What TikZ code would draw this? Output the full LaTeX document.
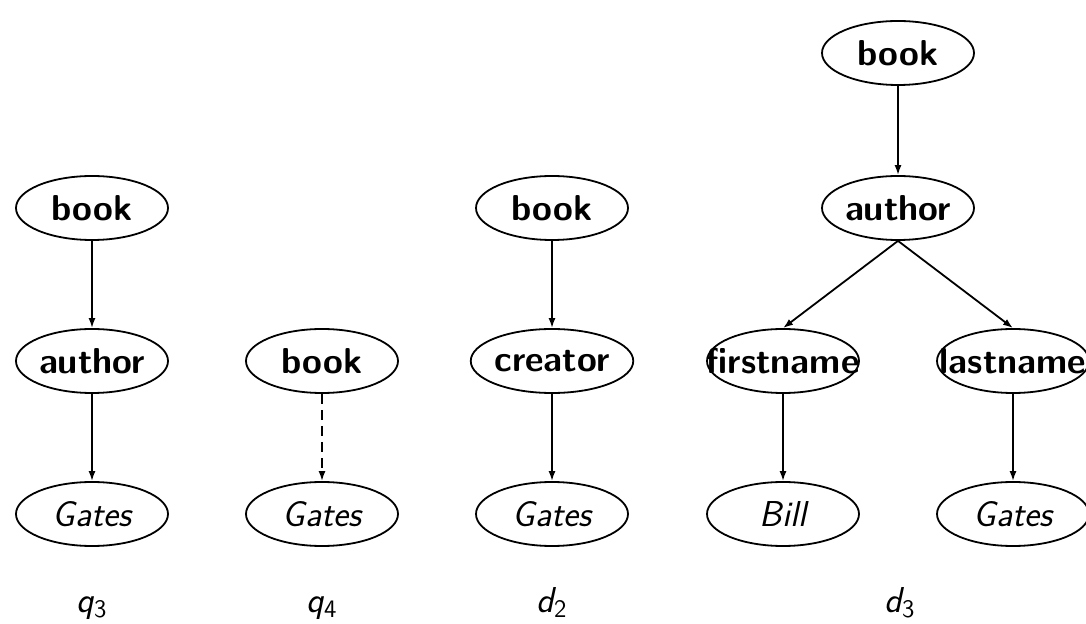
\documentclass[tikz,border=0pt]{standalone}
\usetikzlibrary{shapes.geometric,arrows.meta}
\begin{document}
\begin{tikzpicture}[x=0.5pt,y=-0.5pt,
  tnode/.style={draw, ellipse, minimum width=76pt, minimum height=32pt, inner sep=0pt, line width=0.9pt, font=\fontsize{18}{21}\selectfont\sffamily\bfseries},
  vnode/.style={tnode, font=\fontsize{18}{21}\selectfont\sffamily\itshape},
  edge/.style={line width=0.9pt, -{Latex[length=5pt,width=3.5pt]}},
  lbl/.style={font=\fontsize{18}{21}\selectfont\sffamily\itshape, anchor=base}]
\useasboundingbox (0,0) rectangle (1086,624);
% q3
\node[tnode] (q3book) at (92,208) {book};
\node[tnode] (q3author) at (92,361) {author};
\node[vnode] (q3gates) at (92,514) {Gates};
\draw[edge] (q3book) -- (q3author);
\draw[edge] (q3author) -- (q3gates);
% q4
\node[tnode] (q4book) at (322,361) {book};
\node[vnode] (q4gates) at (322,514) {Gates};
\draw[edge, dash pattern=on 5pt off 3pt] (q4book) -- (q4gates);
% d2
\node[tnode] (d2book) at (552,208) {book};
\node[tnode] (d2creator) at (552,361) {creator};
\node[vnode] (d2gates) at (552,514) {Gates};
\draw[edge] (d2book) -- (d2creator);
\draw[edge] (d2creator) -- (d2gates);
% d3
\node[tnode] (d3book) at (898,53) {book};
\node[tnode] (d3author) at (898,208) {author};
\node[tnode] (d3first) at (783,361) {\makebox[0pt]{firstname}};
\node[tnode] (d3last) at (1013,361) {\makebox[0pt]{lastname}};
\node[vnode] (d3bill) at (783,514) {Bill};
\node[vnode] (d3gates) at (1013,514) {Gates};
\draw[edge] (d3book) -- (d3author);
\draw[edge] (d3author.south) -- (d3first.north);
\draw[edge] (d3author.south) -- (d3last.north);
\draw[edge] (d3first) -- (d3bill);
\draw[edge] (d3last) -- (d3gates);
% labels
\node[lbl] (lq3) at (92,612) {q\textsubscript{\upshape 3}};
\node[lbl] (lq4) at (322,612) {q\textsubscript{\upshape 4}};
\node[lbl] (ld2) at (552,612) {d\textsubscript{\upshape 2}};
\node[lbl] (ld3) at (900,612) {d\textsubscript{\upshape 3}};
\end{tikzpicture}
\end{document}
